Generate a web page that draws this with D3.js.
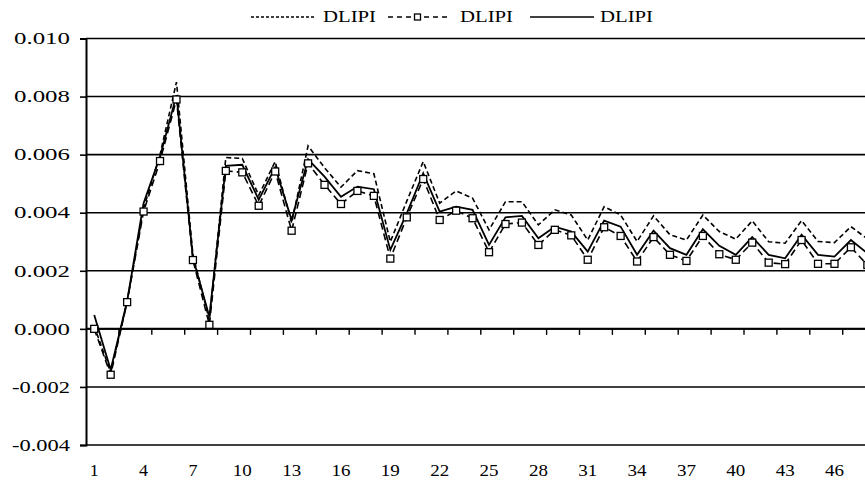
<!DOCTYPE html>
<html>
<head>
<meta charset="utf-8">
<script src="https://cdn.jsdelivr.net/npm/d3@7/dist/d3.min.js"></script>
<style>
  body { margin: 0; background: #fff; }
  svg { display: block; }
</style>
</head>
<body>
<svg id="chart"></svg>
<script>
// periods 1..48
const periods = d3.range(1, 49);

// three DLIPI responses
const dashedSeries = [0.0001, -0.0015, 0.00095, 0.00415, 0.006, 0.0085, 0.00255, 0.0003, 0.0059, 0.00587,
  0.0046, 0.00576, 0.00365, 0.0063, 0.00555, 0.00488, 0.00545, 0.00534, 0.003, 0.0044,
  0.00576, 0.00433, 0.00475, 0.0045, 0.00341, 0.00438, 0.00438, 0.00358, 0.0041, 0.00392,
  0.00306, 0.00421, 0.00392, 0.00301, 0.00389, 0.00324, 0.00306, 0.00392, 0.00335, 0.00309,
  0.00372, 0.003, 0.00295, 0.00373, 0.00301, 0.00297, 0.00352, 0.0031];

const markerSeries = [0.0, -0.00158, 0.00092, 0.00404, 0.00578, 0.0079, 0.00237, 0.00014, 0.00544, 0.00539,
  0.00424, 0.00542, 0.00338, 0.0057, 0.00496, 0.0043, 0.00475, 0.00458, 0.00242, 0.00384,
  0.00516, 0.00375, 0.00407, 0.00381, 0.00264, 0.00361, 0.00366, 0.00289, 0.00341, 0.00322,
  0.00238, 0.0035, 0.0032, 0.00232, 0.00316, 0.00255, 0.00234, 0.0032, 0.00257, 0.00238,
  0.00297, 0.00228, 0.00223, 0.00306, 0.00224, 0.00224, 0.00281, 0.0022];

const solidSeries = [0.00048, -0.00141, 0.00095, 0.00433, 0.00593, 0.00805, 0.00245, 0.00042, 0.00561, 0.00565,
  0.00445, 0.00556, 0.00375, 0.00584, 0.00524, 0.00455, 0.0049, 0.00481, 0.00272, 0.00398,
  0.00536, 0.00404, 0.00421, 0.0041, 0.00289, 0.00384, 0.00389, 0.00312, 0.00352, 0.00335,
  0.00266, 0.00373, 0.00352, 0.00255, 0.00338, 0.00278, 0.00255, 0.00343, 0.00286, 0.00255,
  0.00316, 0.00255, 0.00243, 0.00324, 0.00255, 0.00249, 0.00306, 0.0026];

const yTicks = [-0.004, -0.002, 0.0, 0.002, 0.004, 0.006, 0.008, 0.010];
const xLabels = [1, 4, 7, 10, 13, 16, 19, 22, 25, 28, 31, 34, 37, 40, 43, 46];
const legendNames = ['DLIPI', 'DLIPI', 'DLIPI'];

const width = 865;
const height = 489;
const plotLeft = 86;
const plotTop = 38.5;
const plotBottom = 445;
const step = 16.45;

const svg = d3.select('svg#chart')
  .attr('width', width)
  .attr('height', height)
  .attr('font-family', '"Liberation Serif", "Times New Roman", serif')
  .attr('font-size', '16px');

// category scale, points sit in the middle of each band
const x = d3.scaleBand()
  .domain(periods)
  .range([plotLeft, plotLeft + periods.length * step]);

const px = d => x(d) + x.bandwidth() / 2;

const y = d3.scaleLinear()
  .domain([-0.004, 0.010])
  .range([plotBottom, plotTop]);

const fmt = d => (d < 0 ? '-' : '') + d3.format('.3f')(Math.abs(d));

// gridlines
svg.append('g')
  .selectAll('line')
  .data(yTicks)
  .join('line')
  .attr('x1', plotLeft)
  .attr('x2', width)
  .attr('y1', d => y(d))
  .attr('y2', d => y(d))
  .attr('stroke', '#000')
  .attr('stroke-width', 1.6);

// y axis with left ticks
const yAxis = svg.append('g')
  .attr('transform', 'translate(' + plotLeft + ',0)')
  .call(d3.axisLeft(y).tickValues(yTicks).tickSize(6).tickPadding(10).tickFormat(fmt));
yAxis.select('.domain').attr('stroke-width', 2);
yAxis.selectAll('line').attr('stroke-width', 1.6);
yAxis.selectAll('text')
  .attr('font-size', '16.5px')
  .attr('fill', '#000')
  .attr('font-family', '"Liberation Serif", "Times New Roman", serif')
  .attr('textLength', d => d < 0 ? 58 : 56)
  .attr('lengthAdjust', 'spacingAndGlyphs');

// x axis on the zero line, tick marks every two categories
const tickPos = d3.range(2.5, periods.length, 2);
svg.append('line')
  .attr('x1', plotLeft)
  .attr('x2', width)
  .attr('y1', y(0))
  .attr('y2', y(0))
  .attr('stroke', '#000')
  .attr('stroke-width', 2);
svg.append('g')
  .selectAll('line')
  .data(tickPos)
  .join('line')
  .attr('x1', d => plotLeft + (d - 0.5) * step)
  .attr('x2', d => plotLeft + (d - 0.5) * step)
  .attr('y1', y(0))
  .attr('y2', y(0) + 6)
  .attr('stroke', '#000')
  .attr('stroke-width', 1.4);

// x labels at the bottom
svg.append('g')
  .selectAll('text')
  .data(xLabels)
  .join('text')
  .attr('x', d => px(d))
  .attr('y', 476)
  .attr('text-anchor', 'middle')
  .attr('font-size', '16.5px')
  .text(d => d)
  .attr('textLength', d => d < 10 ? 9 : 19)
  .attr('lengthAdjust', 'spacingAndGlyphs');

const line = d3.line()
  .x((d, i) => px(periods[i]))
  .y(d => y(d));

// top dashed series
svg.append('path')
  .datum(dashedSeries)
  .attr('d', line)
  .attr('fill', 'none')
  .attr('stroke', '#000')
  .attr('stroke-width', 1.6)
  .attr('stroke-dasharray', '5,3');

// solid series
svg.append('path')
  .datum(solidSeries)
  .attr('d', line)
  .attr('fill', 'none')
  .attr('stroke', '#000')
  .attr('stroke-width', 1.8);

// dashed series with square markers
svg.append('path')
  .datum(markerSeries)
  .attr('d', line)
  .attr('fill', 'none')
  .attr('stroke', '#000')
  .attr('stroke-width', 1.6)
  .attr('stroke-dasharray', '7,4');

svg.append('g')
  .selectAll('rect')
  .data(markerSeries)
  .join('rect')
  .attr('x', (d, i) => px(periods[i]) - 3.5)
  .attr('y', d => y(d) - 3.5)
  .attr('width', 7)
  .attr('height', 7)
  .attr('fill', '#fff')
  .attr('stroke', '#000')
  .attr('stroke-width', 1.3);

// legend
const legend = svg.append('g').attr('transform', 'translate(0,17)');
const legendItems = [
  {x1: 251, x2: 315, tx: 323, dash: '3,2'},
  {x1: 388, x2: 447, tx: 460, dash: '5,4', marker: true},
  {x1: 530, x2: 594, tx: 600, dash: null}
];
legendItems.forEach((it, i) => {
  legend.append('line')
    .attr('x1', it.x1)
    .attr('x2', it.x2)
    .attr('y1', 0)
    .attr('y2', 0)
    .attr('stroke', '#000')
    .attr('stroke-width', 1.6)
    .attr('stroke-dasharray', it.dash);
  if (it.marker) {
    legend.append('rect')
      .attr('x', (it.x1 + it.x2) / 2 - 3)
      .attr('y', -3)
      .attr('width', 6)
      .attr('height', 6)
      .attr('fill', '#fff')
      .attr('stroke', '#000')
      .attr('stroke-width', 1.3);
  }
  legend.append('text')
    .attr('x', it.tx)
    .attr('y', 5)
    .attr('font-size', '16px')
    .text(legendNames[i])
    .attr('textLength', 53)
    .attr('lengthAdjust', 'spacingAndGlyphs');
});
</script>
</body>
</html>
